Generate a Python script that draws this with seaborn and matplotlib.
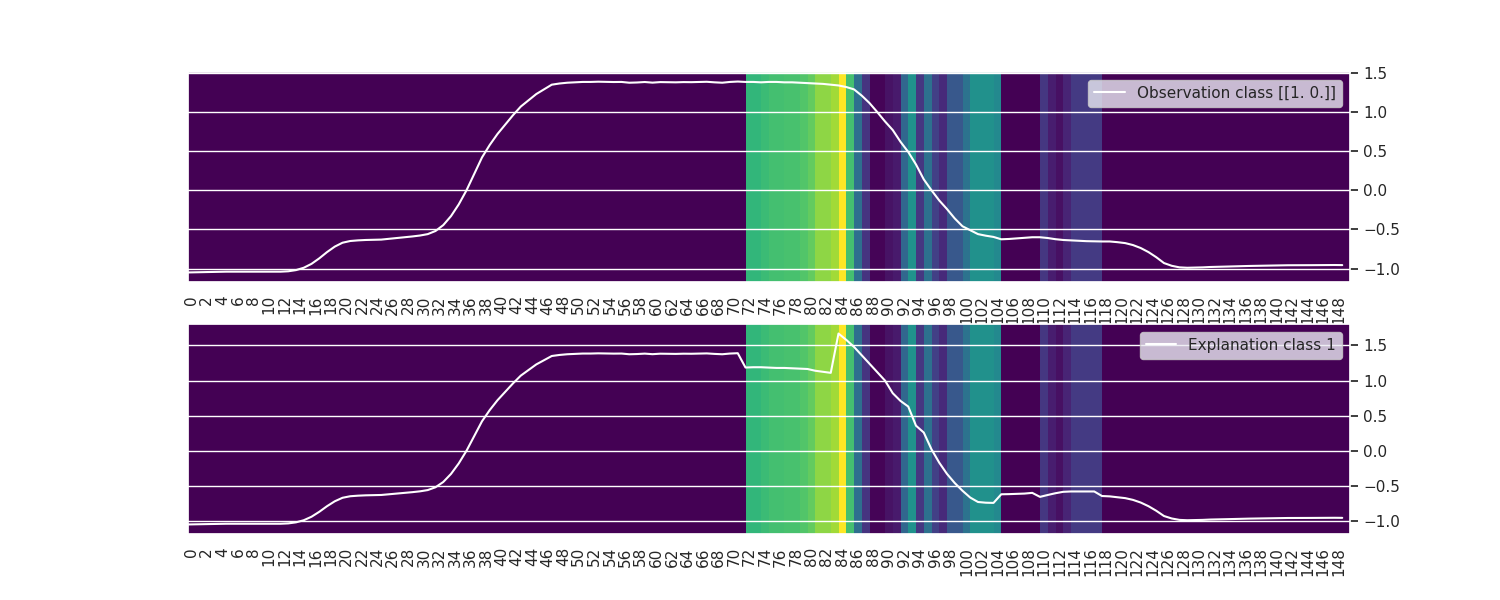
import numpy as np
import matplotlib
matplotlib.use("Agg")
import matplotlib.pyplot as plt
import seaborn as sns

# ---------------------------------------------
# data
# ---------------------------------------------
# relevance per time step (only 72..117 are non-zero)
relevance = [0.0] * 72 + [
    0.66, 0.66, 0.68, 0.70, 0.70, 0.71, 0.71, 0.73, 0.76, 0.83,   # 72-81
    0.83, 0.86, 1.00, 0.70, 0.36, 0.15, 0.01, 0.01, 0.05, 0.07,   # 82-91
    0.33, 0.51, 0.16, 0.37, 0.19, 0.12, 0.27, 0.27, 0.38, 0.50,   # 92-101
    0.50, 0.50, 0.47, 0.0, 0.0, 0.0, 0.0, 0.0, 0.16, 0.08,        # 102-111
    0.04, 0.10, 0.17, 0.17, 0.17, 0.17,                           # 112-117
] + [0.0] * 32

head = [
    -1.05, -1.048, -1.045, -1.043, -1.042, -1.04, -1.04, -1.04, -1.04, -1.04,
    -1.04, -1.04, -1.04, -1.035, -1.02, -0.99, -0.94, -0.87, -0.79, -0.72,
    -0.67, -0.648, -0.64, -0.635, -0.632, -0.63, -0.62, -0.61, -0.60, -0.59,
    -0.578, -0.56, -0.52, -0.445, -0.33, -0.18, 0.0, 0.21, 0.42, 0.58,
    0.72, 0.84, 0.96, 1.07, 1.15, 1.23, 1.29, 1.35, 1.365, 1.375,
    1.38, 1.385, 1.385, 1.388, 1.386, 1.384, 1.385, 1.375, 1.378, 1.384,
    1.376, 1.383, 1.382, 1.38, 1.383, 1.382, 1.384, 1.387, 1.38, 1.375,
    1.385, 1.39,
]  # 0-71

tail = [
    -0.663, -0.675, -0.70, -0.738, -0.79, -0.855, -0.93, -0.965, -0.985, -0.99,
    -0.988, -0.985, -0.98, -0.978, -0.975, -0.972, -0.97, -0.967, -0.965, -0.962,
    -0.96, -0.959, -0.958, -0.958, -0.957, -0.957, -0.956, -0.956, -0.955, -0.956,
]  # 120-149

obs_mid = [
    1.385, 1.385, 1.38, 1.385, 1.385, 1.38, 1.38, 1.375, 1.37, 1.365,
    1.36, 1.35, 1.34, 1.32, 1.29, 1.21, 1.115, 1.0, 0.88, 0.77,
    0.62, 0.49, 0.33, 0.14, 0.0, -0.13, -0.24, -0.36, -0.46, -0.51,
    -0.56, -0.58, -0.596, -0.626, -0.622, -0.615, -0.607, -0.60, -0.60, -0.61,
    -0.625, -0.635, -0.64, -0.645, -0.65, -0.652, -0.654, -0.654,
]  # 72-119

expl_mid = [
    1.186, 1.19, 1.19, 1.185, 1.18, 1.18, 1.175, 1.17, 1.165, 1.14,
    1.125, 1.11, 1.67, 1.58, 1.48, 1.36, 1.24, 1.12, 1.0, 0.82,
    0.71, 0.63, 0.357, 0.26, 0.02, -0.17, -0.33, -0.46, -0.57, -0.667,
    -0.73, -0.74, -0.743, -0.62, -0.618, -0.614, -0.61, -0.60, -0.657, -0.63,
    -0.605, -0.585, -0.58, -0.58, -0.58, -0.58, -0.645, -0.65,
]  # 72-119

observation = head + obs_mid + tail
explanation = head + expl_mid + tail
steps = list(range(len(observation)))

panels = [
    (observation, "Observation class [[1. 0.]]"),
    (explanation, "Explanation class 1"),
]

# ---------------------------------------------
# plot
# ---------------------------------------------
sns.set_theme()

fig, axes = plt.subplots(2, 1, figsize=(15, 6))

for ax, (serie, rotulo) in zip(axes, panels):
    sns.heatmap(
        np.array(relevance).reshape(1, -1),
        cmap="viridis",
        cbar=False,
        xticklabels=2,
        yticklabels=False,
        ax=ax,
    )
    ax.tick_params(axis="x", labelrotation=90)

    ax2 = ax.twinx()
    sns.lineplot(x=steps, y=serie, color="white", ax=ax2, label=rotulo)
    ax2.legend(loc="upper right")

fig.savefig("out.png", dpi=100)
